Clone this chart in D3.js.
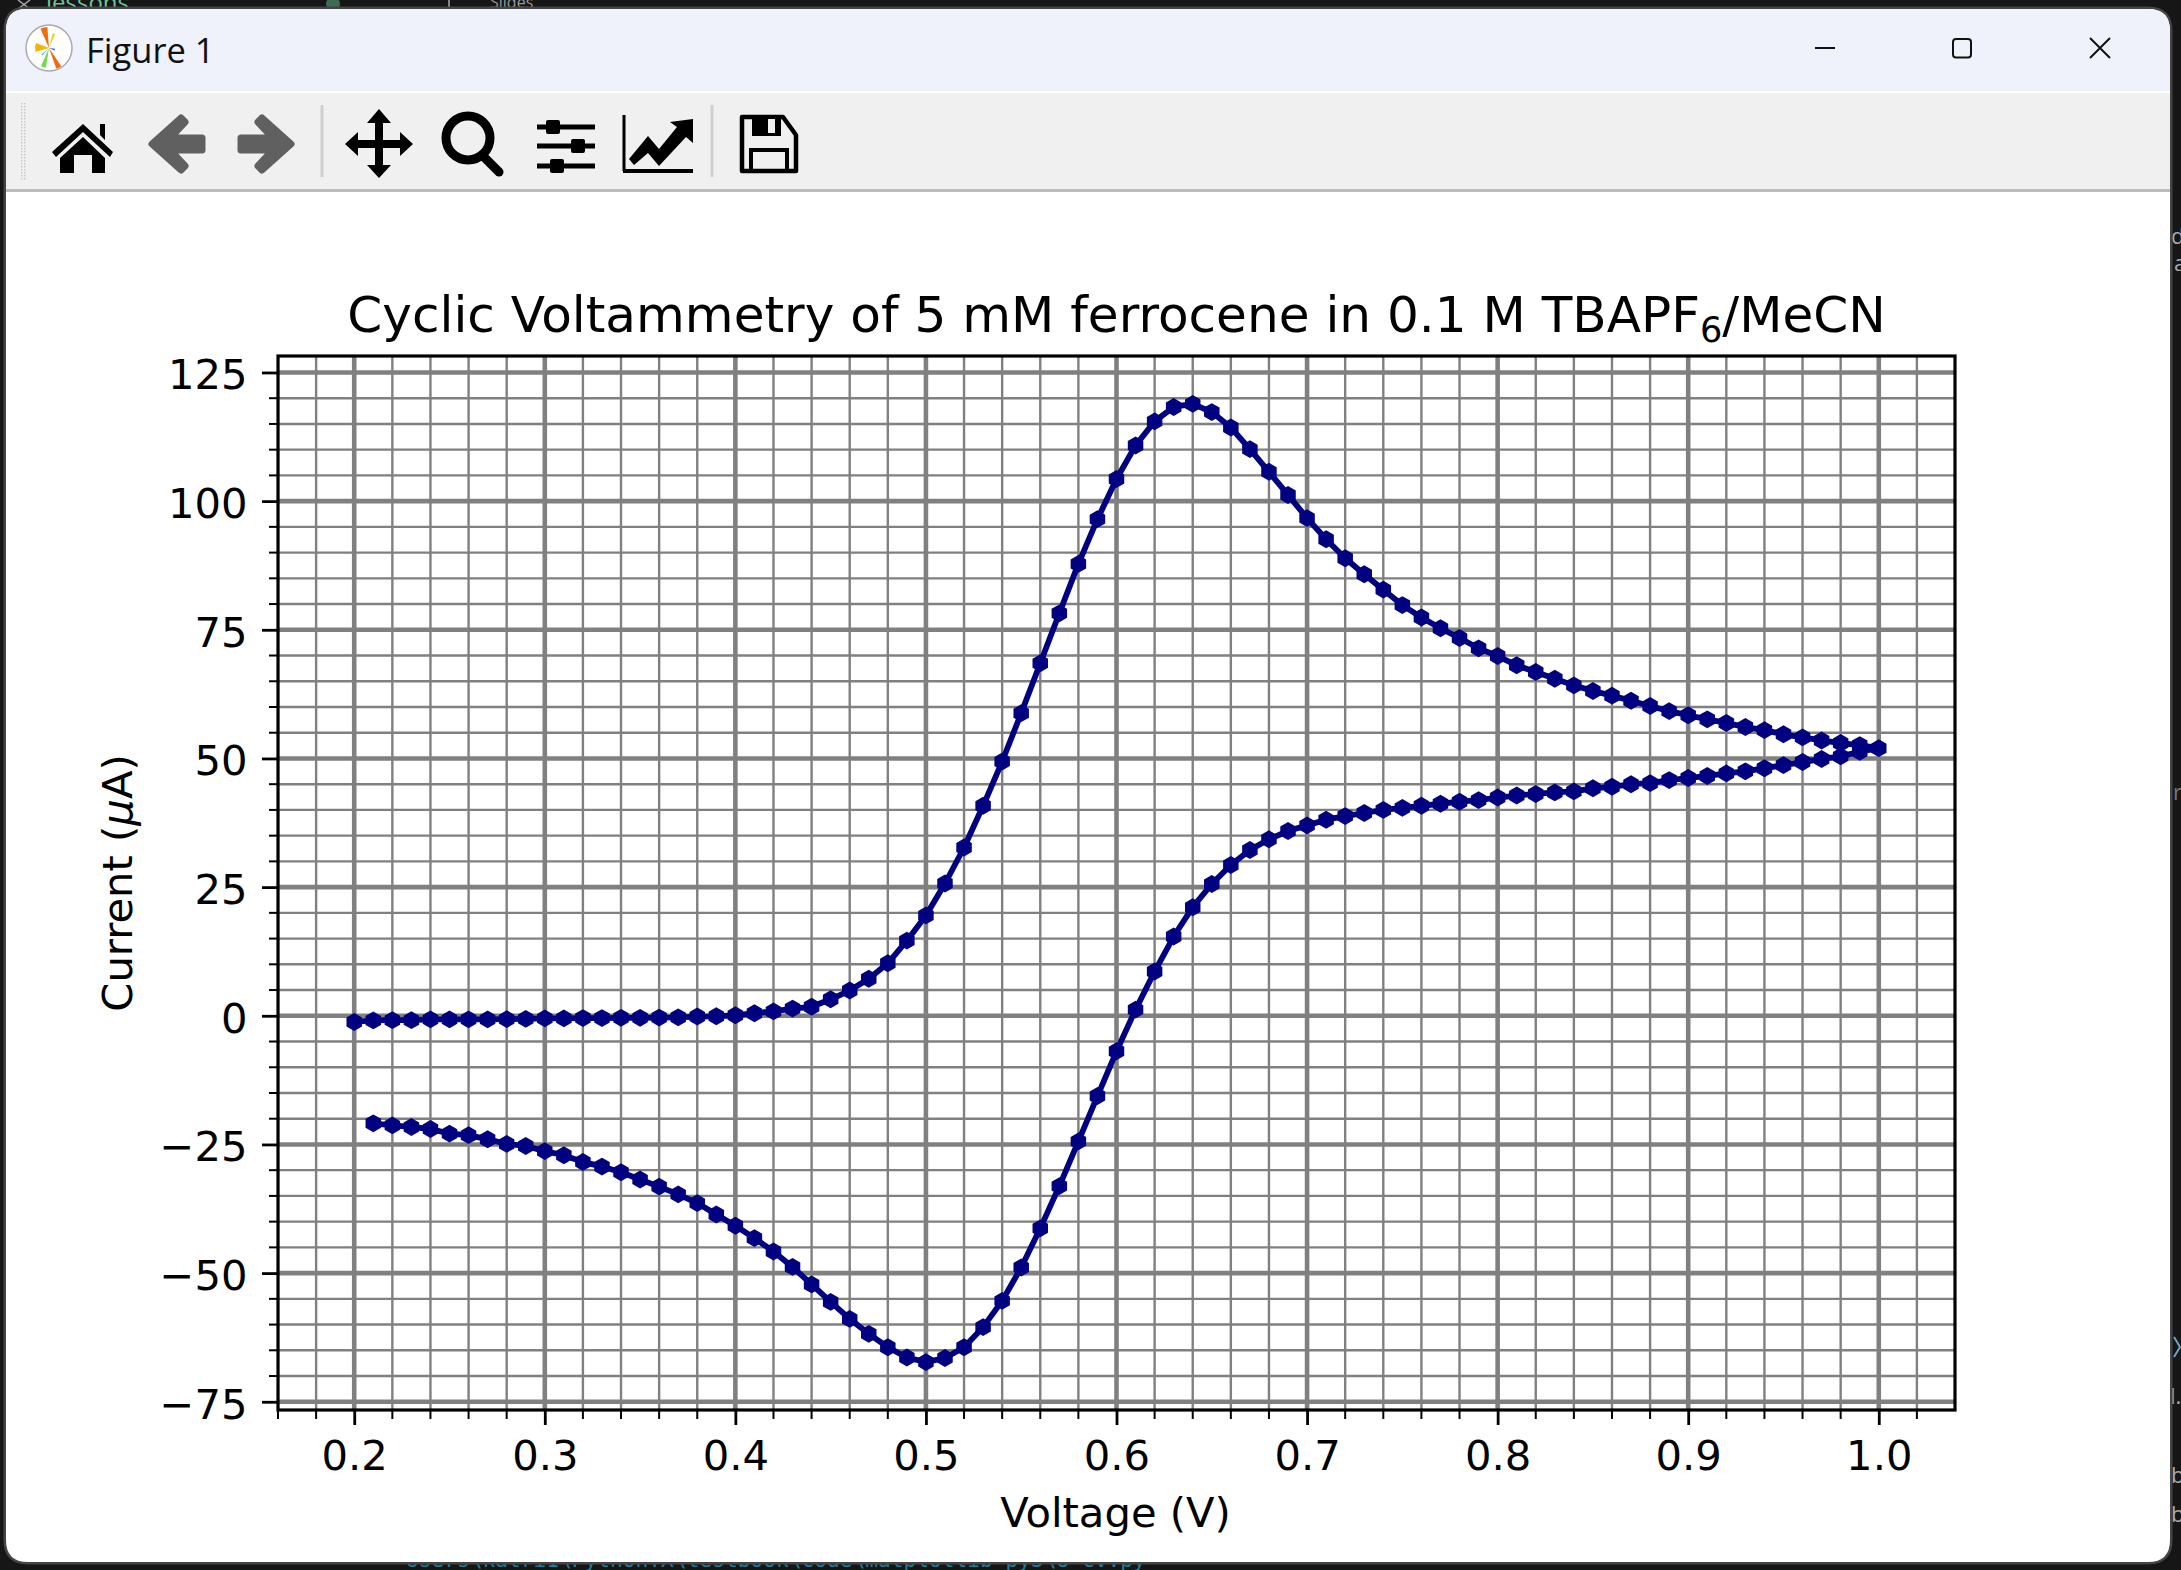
<!DOCTYPE html>
<html><head><meta charset="utf-8">
<script src="https://cdnjs.cloudflare.com/ajax/libs/d3/7.8.5/d3.min.js"></script>
<style>html,body{margin:0;padding:0;background:#161616;overflow:hidden}svg{display:block}text{font-family:"DejaVu Sans"}</style>
</head><body><div id="chart"></div>
<script>
const chartTitle = "Cyclic Voltammetry of 5 mM ferrocene in 0.1 M TBAPF";
const xLabel = "Voltage (V)";
const forwardVoltage = [0.20,0.21,0.22,0.23,0.24,0.25,0.26,0.27,0.28,0.29,0.30,0.31,0.32,0.33,0.34,0.35,0.36,0.37,0.38,0.39,0.40,0.41,0.42,0.43,0.44,0.45,0.46,0.47,0.48,0.49,0.50,0.51,0.52,0.53,0.54,0.55,0.56,0.57,0.58,0.59,0.60,0.61,0.62,0.63,0.64,0.65,0.66,0.67,0.68,0.69,0.70,0.71,0.72,0.73,0.74,0.75,0.76,0.77,0.78,0.79,0.80,0.81,0.82,0.83,0.84,0.85,0.86,0.87,0.88,0.89,0.90,0.91,0.92,0.93,0.94,0.95,0.96,0.97,0.98,0.99,1.00];
const forwardCurrent = [-1.2,-0.9,-0.85,-0.85,-0.7,-0.7,-0.7,-0.7,-0.65,-0.6,-0.5,-0.5,-0.45,-0.45,-0.4,-0.4,-0.35,-0.3,-0.15,-0.1,0.1,0.5,0.85,1.4,1.75,3.2,4.9,7.2,10.2,14.6,19.5,25.7,32.7,40.8,49.4,58.8,68.5,78.2,87.8,96.5,104.3,110.8,115.5,118.3,118.9,117.3,114.3,110.1,105.7,101.2,96.7,92.6,88.9,85.8,82.8,79.8,77.4,75.3,73.4,71.4,69.9,68.1,66.8,65.5,64.2,63.1,62.2,61.2,60.2,59.2,58.4,57.6,56.9,56.1,55.5,54.7,54.1,53.5,53.0,52.6,52.0];
const reverseVoltage = [0.99,0.98,0.97,0.96,0.95,0.94,0.93,0.92,0.91,0.90,0.89,0.88,0.87,0.86,0.85,0.84,0.83,0.82,0.81,0.80,0.79,0.78,0.77,0.76,0.75,0.74,0.73,0.72,0.71,0.70,0.69,0.68,0.67,0.66,0.65,0.64,0.63,0.62,0.61,0.60,0.59,0.58,0.57,0.56,0.55,0.54,0.53,0.52,0.51,0.50,0.49,0.48,0.47,0.46,0.45,0.44,0.43,0.42,0.41,0.40,0.39,0.38,0.37,0.36,0.35,0.34,0.33,0.32,0.31,0.30,0.29,0.28,0.27,0.26,0.25,0.24,0.23,0.22,0.21];
const reverseCurrent = [51.3,50.4,49.9,49.3,48.7,48.1,47.5,47.1,46.6,46.2,45.8,45.2,45.0,44.5,44.2,43.6,43.4,43.1,42.8,42.4,41.9,41.6,41.2,40.8,40.4,40.0,39.4,38.8,38.1,37.0,35.9,34.3,32.2,29.3,25.6,21.1,15.4,8.6,1.2,-6.9,-15.6,-24.4,-33.1,-41.3,-48.9,-55.4,-60.5,-64.4,-66.5,-67.3,-66.4,-64.4,-61.8,-58.9,-55.6,-52.2,-48.8,-45.8,-43.2,-40.8,-38.6,-36.4,-34.7,-33.2,-31.8,-30.4,-29.3,-28.4,-27.1,-26.3,-25.3,-24.9,-24.0,-23.2,-22.9,-22.0,-21.6,-21.3,-20.9];
const xMajorTicks = [0.2,0.3,0.4,0.5,0.6,0.7,0.8,0.9,1.0];
const xMinorTicks = [0.16,0.18,0.22,0.24,0.26,0.28,0.32,0.34,0.36,0.38,0.42,0.44,0.46,0.48,0.52,0.54,0.56,0.58,0.62,0.64,0.66,0.68,0.72,0.74,0.76,0.78,0.82,0.84,0.86,0.88,0.92,0.94,0.96,0.98,1.02];
const yMajorTicks = [-75,-50,-25,0,25,50,75,100,125];
const yMinorTicks = [-70,-65,-60,-55,-45,-40,-35,-30,-20,-15,-10,-5,5,10,15,20,30,35,40,45,55,60,65,70,80,85,90,95,105,110,115,120];

const W = 2181, H = 1570;
const svg = d3.select("#chart").append("svg").attr("width",W).attr("height",H).attr("viewBox",`0 0 ${W} ${H}`);

// ---- desktop behind the window ----
const bg = svg.append("g");
bg.append("rect").attr("width",W).attr("height",H).attr("fill","#161616");
const bgText = (t,x,y,fill,size,mono) => bg.append("text").text(t).attr("x",x).attr("y",y).attr("fill",fill).attr("font-size",size).style("font-family",mono?"DejaVu Sans Mono":"Open Sans");
bgText("lessons",46,11,"#6fc39a",24);
bgText("Slides",490,8,"#9a9a9a",16);
bg.append("circle").attr("cx",333).attr("cy",4).attr("r",7).attr("fill","#3f6b55");
bg.append("line").attr("x1",449).attr("x2",449).attr("y1",0).attr("y2",9).attr("stroke","#aaa").attr("stroke-width",1.5);
bg.append("path").attr("d","M18 0L30 9M30 0L18 9").attr("stroke","#aaa").attr("stroke-width",1.5);
bgText("Users\\katri1\\PythonTX\\testbook\\code\\matplotlib_py3\\8-cv.py",406,1567,"#1a7f9c",21.2,true);
[["d",2171,244,"#aaa"],["a",2174,271,"#aaa"],["l.",2170,1404,"#aaa"],["b",2171,1483,"#aaa"],["b",2171,1522,"#aaa"],["r",2173,800,"#777"]].forEach(d=>bgText(d[0],d[1],d[2],d[3],22));
bg.append("path").attr("d","M2174 1337L2180 1347L2174 1357").attr("fill","none").attr("stroke","#6aa7c4").attr("stroke-width",2);

// ---- window ----
const win = svg.append("g");
const clip = svg.append("defs").append("clipPath").attr("id","winclip");
const winPath = "M26 9H2148Q2170 9 2170 31V1540Q2170 1562 2148 1562H28Q6 1562 6 1540V31Q6 9 26 9Z";
clip.append("path").attr("d",winPath);
win.append("path").attr("d",winPath).attr("fill","#fff").attr("stroke","#454545").attr("stroke-width",5);
const wc = win.append("g").attr("clip-path","url(#winclip)");
wc.append("rect").attr("x",0).attr("y",9).attr("width",W).attr("height",1553).attr("fill","#fff");
wc.append("rect").attr("x",0).attr("y",9).attr("width",W).attr("height",82).attr("fill","#eff2fa");
wc.append("rect").attr("x",0).attr("y",93).attr("width",W).attr("height",96).attr("fill","#f0f0f0");
wc.append("rect").attr("x",0).attr("y",189).attr("width",W).attr("height",3).attr("fill","#bcbcbc");
// grip
d3.range(0,26).forEach(i=>{[21,24].forEach(x=>wc.append("rect").attr("x",x).attr("y",103+i*3).attr("width",1.4).attr("height",1.4).attr("fill","#c4c4c4"));});

// title bar
const logo = wc.append("g").attr("transform","translate(49,48)");
logo.append("circle").attr("r",23).attr("fill","#fff").attr("stroke","#aaa").attr("stroke-width",1.5);
const slices = [[-0.42,-0.08,21,"#f46c0a"],[0.25,0.42,15,"#c9dd2c"],[-1.85,-1.2,14,"#f5b400"],[3.3,3.55,20,"#74d94b"],[2.55,2.8,22,"#ee6a10"],[3.85,4.02,10,"#5fc9c9"],[1.7,2.0,6,"#3a5fd0"]];
slices.forEach(s=>logo.append("path").attr("d",d3.arc()({innerRadius:0,outerRadius:s[2],startAngle:s[0],endAngle:s[1]})).attr("fill",s[3]));
wc.append("text").text("Figure 1").attr("x",86).attr("y",63).attr("font-size",34.5).attr("fill","#111").style("font-family","Open Sans");
wc.append("line").attr("x1",1815).attr("x2",1835).attr("y1",48).attr("y2",48).attr("stroke","#111").attr("stroke-width",2);
wc.append("rect").attr("x",1953).attr("y",39).attr("width",18).attr("height",18.5).attr("rx",3).attr("fill","none").attr("stroke","#111").attr("stroke-width",2);
wc.append("path").attr("d","M2090 38L2110 58M2110 38L2090 58").attr("stroke","#111").attr("stroke-width",2);

// toolbar icons
const icons = wc.append("g");
icons.append("path").attr("fill","#000").attr("d","M83 124L113 152L110 157L83 132L56 157L52 152ZM100 124H105V140L100 135ZM60 158L83 137L105 158V173H92V155H74V173H60Z");
icons.append("path").attr("fill","#606060").attr("stroke","#606060").attr("stroke-width",7).attr("stroke-linejoin","round").attr("d","M181 118L152 144L181 170L185 166L170 150H202V138H170L185 122Z");
icons.append("path").attr("fill","#606060").attr("stroke","#606060").attr("stroke-width",7).attr("stroke-linejoin","round").attr("d","M262 118L291 144L262 170L258 166L273 150H241V138H273L258 122Z");
[[322,105,177],[712,105,177]].forEach(s=>icons.append("line").attr("x1",s[0]).attr("x2",s[0]).attr("y1",s[1]).attr("y2",s[2]).attr("stroke","#cfcfcf").attr("stroke-width",3));
icons.append("path").attr("fill","#000").attr("d","M379 109L391 123H383V140H400V132L413 144L400 156V148H383V165H391L379 178L367 165H375V148H358V156L345 144L358 132V140H375V123H367Z");
icons.append("circle").attr("cx",468).attr("cy",138).attr("r",22).attr("fill","none").attr("stroke","#000").attr("stroke-width",9);
icons.append("line").attr("x1",482).attr("y1",155).attr("x2",499).attr("y2",172).attr("stroke","#000").attr("stroke-width",9).attr("stroke-linecap","round");
[[127,553],[146,578],[166,557]].forEach(r=>{
  icons.append("rect").attr("x",537).attr("y",r[0]-2.5).attr("width",58).attr("height",5).attr("fill","#000");
  icons.append("rect").attr("x",r[1]-7).attr("y",r[0]-7).attr("width",14).attr("height",14).attr("rx",2).attr("fill","#000");
});
icons.append("path").attr("fill","none").attr("stroke","#000").attr("stroke-width",3).attr("d","M624 115V171");
icons.append("rect").attr("x",623).attr("y",169).attr("width",70).attr("height",4).attr("fill","#000");
icons.append("path").attr("fill","#000").attr("d","M629 159L648 136L659 149L677 127L670 122L693 119V143L686 137L659 166L648 153L634 165Z");
icons.append("path").attr("fill","none").attr("stroke","#000").attr("stroke-width",4.5).attr("stroke-linejoin","round").attr("d","M742 117H783L796 135V171H742Z");
icons.append("path").attr("fill","#000").attr("d","M752 117H781V136H752Z");
icons.append("rect").attr("x",768).attr("y",119).attr("width",7).attr("height",14).attr("fill","#f0f0f0");
icons.append("rect").attr("x",751).attr("y",150).attr("width",36).attr("height",21).attr("fill","none").attr("stroke","#000").attr("stroke-width",4);

// ---- chart ----
const margin = {left:278,right:1955,top:356,bottom:1410};
const x = d3.scaleLinear().domain([0.16,1.04]).range([margin.left,margin.right]);
const y = d3.scaleLinear().domain([-76.6,128.2]).range([margin.bottom,margin.top]);
const plot = svg.append("g");
const gridClip = svg.select("defs").append("clipPath").attr("id","plotclip");
gridClip.append("rect").attr("x",margin.left).attr("y",margin.top).attr("width",margin.right-margin.left).attr("height",margin.bottom-margin.top);

const gridG = plot.append("g").attr("clip-path","url(#plotclip)");
const GRID = "#808080";
gridG.selectAll(".vmin").data(xMinorTicks).join("line").attr("x1",x).attr("x2",x).attr("y1",margin.top).attr("y2",margin.bottom).attr("stroke",GRID).attr("stroke-width",2.4);
gridG.selectAll(".hmin").data(yMinorTicks).join("line").attr("y1",y).attr("y2",y).attr("x1",margin.left).attr("x2",margin.right).attr("stroke",GRID).attr("stroke-width",2.4);
gridG.selectAll(".vmaj").data(xMajorTicks).join("line").attr("x1",x).attr("x2",x).attr("y1",margin.top).attr("y2",margin.bottom).attr("stroke",GRID).attr("stroke-width",4.6);
gridG.selectAll(".hmaj").data(yMajorTicks).join("line").attr("y1",y).attr("y2",y).attr("x1",margin.left).attr("x2",margin.right).attr("stroke",GRID).attr("stroke-width",4.6);

// curve
const points = [...forwardVoltage.map((v,i)=>[v,forwardCurrent[i]]), ...reverseVoltage.map((v,i)=>[v,reverseCurrent[i]])];
const NAVY = "#000080";
plot.append("path").datum(points).attr("fill","none").attr("stroke",NAVY).attr("stroke-width",5.8).attr("stroke-linejoin","round")
  .attr("d",d3.line().x(d=>x(d[0])).y(d=>y(d[1])));
const hexagon = {draw(ctx,size){const r=Math.sqrt(size);for(let i=0;i<6;i++){const a=Math.PI/3*i;const px=r*Math.sin(a),py=-r*Math.cos(a);i?ctx.lineTo(px,py):ctx.moveTo(px,py);}ctx.closePath();}};
plot.selectAll(".pt").data(points).join("path").attr("fill",NAVY)
  .attr("d",d3.symbol().type(hexagon).size(80)).attr("transform",d=>`translate(${x(d[0])},${y(d[1])})`);

// axes
const TICKFONT = 41.7;
const xAxis = plot.append("g").attr("transform",`translate(0,${margin.bottom})`)
  .call(d3.axisBottom(x).tickValues(xMajorTicks).tickFormat(d3.format(".1f")).tickSize(15).tickSizeOuter(0));
const yAxis = plot.append("g").attr("transform",`translate(${margin.left},0)`)
  .call(d3.axisLeft(y).tickValues(yMajorTicks).tickFormat(d3.format("d")).tickSize(16).tickSizeOuter(0));
xAxis.select(".domain").remove(); yAxis.select(".domain").remove();
[xAxis,yAxis].forEach(a=>{a.selectAll("line").attr("stroke","#000").attr("stroke-width",2.8);
  a.selectAll("text").attr("fill","#000").attr("font-size",TICKFONT).style("font-family","DejaVu Sans");});
xAxis.selectAll("text").attr("dy",null).attr("y",60);
yAxis.selectAll("text").attr("dy",null).attr("x",-30.5).attr("y",16.5);
xAxis.selectAll(".minor").data(xMinorTicks).join("line").attr("x1",x).attr("x2",x).attr("y1",0).attr("y2",9).attr("stroke","#000").attr("stroke-width",2);
yAxis.selectAll(".minor").data(yMinorTicks).join("line").attr("y1",y).attr("y2",y).attr("x1",0).attr("x2",-9).attr("stroke","#000").attr("stroke-width",2);

// spines
plot.append("rect").attr("x",margin.left).attr("y",margin.top).attr("width",margin.right-margin.left).attr("height",margin.bottom-margin.top).attr("fill","none").attr("stroke","#000").attr("stroke-width",3.2);

// labels
const titleT = plot.append("text").attr("x",(margin.left+margin.right)/2).attr("y",332).attr("text-anchor","middle").attr("font-size",50.1).attr("fill","#000");
titleT.append("tspan").text(chartTitle);
titleT.append("tspan").text("6").attr("font-size",35.1).attr("dy",10);
titleT.append("tspan").text("/MeCN").attr("dy",-10);
plot.append("text").text(xLabel).attr("x",(margin.left+margin.right)/2-1).attr("y",1527).attr("text-anchor","middle").attr("font-size",TICKFONT).attr("fill","#000");
const yl = plot.append("text").attr("transform",`translate(132,${(margin.top+margin.bottom)/2}) rotate(-90)`).attr("text-anchor","middle").attr("font-size",TICKFONT).attr("fill","#000");
yl.append("tspan").text("Current (");
yl.append("tspan").text("\u03BC").style("font-style","italic");
yl.append("tspan").text("A)");
</script></body></html>
